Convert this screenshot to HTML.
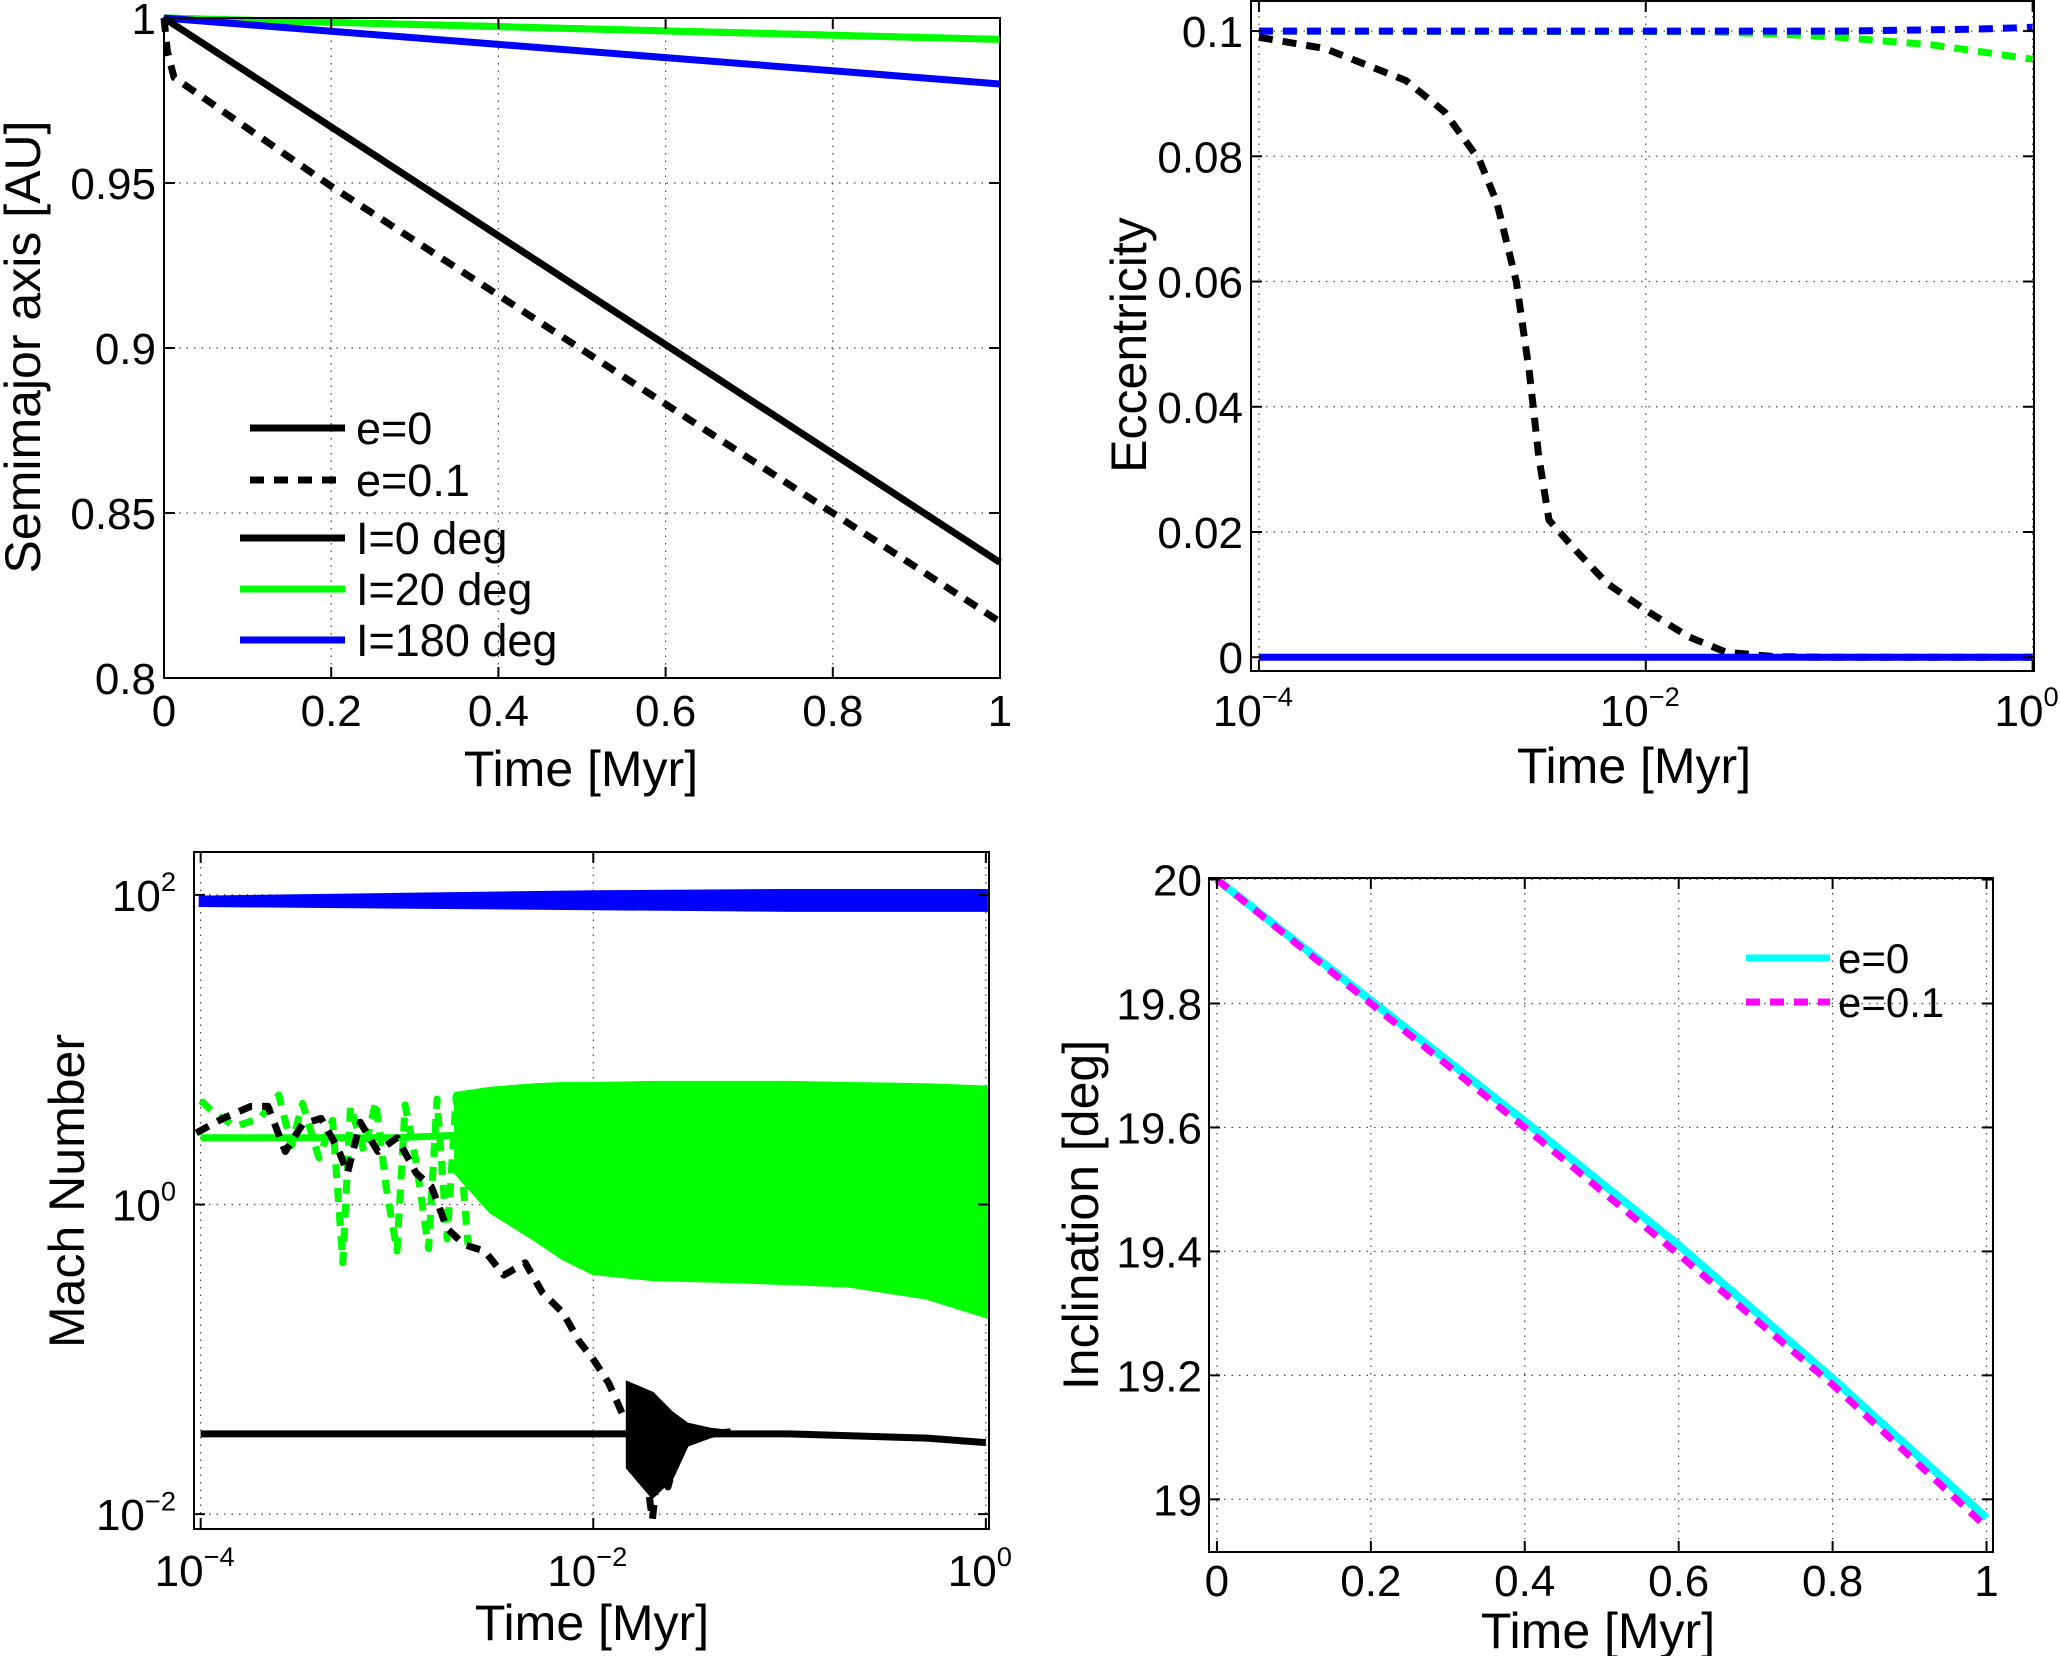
<!DOCTYPE html>
<html><head><meta charset="utf-8"><style>
html,body{margin:0;padding:0;background:#fff;}
svg text{font-family:"Liberation Sans",Arial,sans-serif;fill:#000;}
</style></head><body>
<svg id="fig" width="2060" height="1656" viewBox="0 0 2060 1656" xmlns="http://www.w3.org/2000/svg"></svg>
<script>
// ---------- Panel A: semimajor axis ----------
const aTime = [0, 0.2, 0.4, 0.6, 0.8, 1];
const aE0I0 = [1, 0.967, 0.934, 0.901, 0.868, 0.835];
const aE1I0T = [0, 0.004, 0.012, 0.2, 0.4, 0.6, 0.8, 1];
const aE1I0 = [1, 0.99, 0.982, 0.949, 0.916, 0.883, 0.850, 0.817];
const aI20 = [1, 0.9987, 0.9974, 0.9961, 0.9948, 0.9935];
const aI180 = [1, 0.996, 0.992, 0.988, 0.984, 0.980];
const aXTicks = [0, 0.2, 0.4, 0.6, 0.8, 1];
const aXTickLabels = ["0", "0.2", "0.4", "0.6", "0.8", "1"];
const aYTicks = [0.8, 0.85, 0.9, 0.95, 1];
const aYTickLabels = ["0.8", "0.85", "0.9", "0.95", "1"];

// ---------- Panel B: eccentricity ----------
const bBlackT = [1e-4, 2.2e-4, 5.75e-4, 9.1e-4, 1.38e-3, 1.7e-3, 2.14e-3, 2.5e-3, 2.8e-3, 3.16e-3, 4.4e-3, 6.3e-3, 1e-2, 1.66e-2, 2.6e-2, 4.6e-2, 8e-2, 1];
const bBlackE = [0.099, 0.0972, 0.0921, 0.0871, 0.0794, 0.0726, 0.060, 0.0456, 0.032, 0.0219, 0.0169, 0.0118, 0.0075, 0.0033, 0.0008, 0.0001, 0, 0];
const bGreenT = [1e-4, 2e-2, 0.05, 0.1, 0.3, 0.6, 1];
const bGreenE = [0.1, 0.0999, 0.0995, 0.099, 0.0978, 0.0965, 0.0955];
const bBlueT = [1e-4, 1e-2, 0.1, 0.5, 1];
const bBlueE = [0.1, 0.1, 0.1, 0.1003, 0.1006];
const bSolidT = [1e-4, 1];
const bSolidE = [0, 0];
const bYTicks = [0, 0.02, 0.04, 0.06, 0.08, 0.1];
const bYTickLabels = ["0", "0.02", "0.04", "0.06", "0.08", "0.1"];
const logXTicks = [1e-4, 1e-2, 1];
const logXTickExp = ["−4", "−2", "0"];

// ---------- Panel C: Mach number ----------
const cBlueT = [1e-4, 1e-3, 1e-2, 0.1, 1];
const cBlueUp = [96, 100, 104, 106, 106];
const cBlueLo = [86, 84, 82, 80, 80];
const cBlueMid = [91, 91, 92, 92, 92];
const cGreenSolidT = [1e-4, 1e-3, 2e-3];
const cGreenSolidV = [2.7, 2.7, 2.8];
const cBandT = [2e-3, 3e-3, 5e-3, 7e-3, 1e-2, 2e-2, 5e-2, 0.1, 0.2, 0.5, 1];
const cBandUp = [5.2, 5.6, 5.9, 6.0, 6.0, 6.1, 6.1, 6.1, 6.0, 5.9, 5.7];
const cBandLo = [1.6, 0.9, 0.6, 0.45, 0.36, 0.33, 0.32, 0.31, 0.3, 0.25, 0.19];
const cGreenDashT = [1e-4, 1.2e-4, 1.5e-4, 2.0e-4, 2.5e-4, 2.9e-4, 3.3e-4, 4.0e-4, 4.7e-4, 5.3e-4, 5.8e-4, 6.8e-4, 7.8e-4, 8.8e-4, 1.0e-3, 1.1e-3, 1.25e-3, 1.45e-3, 1.6e-3, 1.8e-3, 2.0e-3, 2.3e-3];
const cGreenDashV = [4.7, 3.8, 3.2, 3.6, 5.1, 2.4, 4.5, 2.0, 3.5, 0.42, 4.3, 2.2, 4.6, 1.3, 0.5, 4.4, 1.9, 0.52, 4.8, 0.6, 5.0, 0.55];
const cBlackDashT = [9.5e-5, 1.3e-4, 1.8e-4, 2.2e-4, 2.7e-4, 3.3e-4, 4.1e-4, 5e-4, 5.6e-4, 6.5e-4, 8e-4, 1.0e-3, 1.25e-3, 1.5e-3, 1.8e-3, 2.2e-3, 2.8e-3, 3.5e-3, 4.5e-3, 5.5e-3, 7e-3, 8.5e-3, 1e-2, 1.2e-2, 1.4e-2, 1.6e-2, 1.8e-2, 2.0e-2, 2.2e-2, 2.4e-2, 2.7e-2, 3e-2, 3.5e-2, 5e-2];
const cBlackDashV = [2.9, 3.6, 4.3, 4.3, 2.2, 3.3, 3.6, 2.3, 1.6, 3.4, 2.2, 2.7, 1.6, 1.3, 0.7, 0.55, 0.5, 0.35, 0.42, 0.27, 0.2, 0.13, 0.1, 0.07, 0.045, 0.05, 0.025, 0.0092, 0.03, 0.015, 0.025, 0.03, 0.033, 0.034];
const cBlackBandT = [1.5e-2, 2e-2, 2.5e-2, 3e-2, 4e-2, 5e-2];
const cBlackBandUp = [0.07, 0.06, 0.045, 0.038, 0.035, 0.034];
const cBlackBandLo = [0.02, 0.013, 0.017, 0.028, 0.032, 0.034];
const cBlackSolidT = [1e-4, 2e-2, 0.1, 0.5, 1];
const cBlackSolidV = [0.033, 0.033, 0.033, 0.031, 0.029];
const cYTicks = [1e-2, 1, 1e2];
const cYTickExp = ["−2", "0", "2"];

// ---------- Panel D: inclination ----------
const dTime = [0, 0.2, 0.4, 0.6, 0.8, 1];
const dE0 = [20, 19.805, 19.61, 19.41, 19.195, 18.97];
const dE1 = [20, 19.80, 19.60, 19.395, 19.185, 18.955];
const dYTicks = [19, 19.2, 19.4, 19.6, 19.8, 20];
const dYTickLabels = ["19", "19.2", "19.4", "19.6", "19.8", "20"];

const NS = "http://www.w3.org/2000/svg";
const fig = document.getElementById("fig");
function mk(tag, parent) { const e = document.createElementNS(NS, tag); parent.appendChild(e); return e; }

function makeAxes(box, xr, yr, xlog, ylog) {
  const fx = v => xlog ? Math.log10(v) : v;
  const fy = v => ylog ? Math.log10(v) : v;
  return {
    box,
    x: v => box.l + (fx(v) - fx(xr[0])) / (fx(xr[1]) - fx(xr[0])) * (box.r - box.l),
    y: v => box.b - (fy(v) - fy(yr[0])) / (fy(yr[1]) - fy(yr[0])) * (box.b - box.t)
  };
}
function line(g, ax, xs, ys, color, w, dash, name) {
  const p = mk("polyline", g);
  p.setAttribute("points", xs.map((x, i) => ax.x(x).toFixed(1) + "," + ax.y(ys[i]).toFixed(1)).join(" "));
  p.setAttribute("fill", "none"); p.setAttribute("stroke", color); p.setAttribute("stroke-width", w);
  p.setAttribute("stroke-linejoin", "round");
  if (dash) p.setAttribute("stroke-dasharray", dash);
  
  
  return p;
}
function band(g, ax, xs, up, lo, color, name) {
  const pts = xs.map((x, i) => ax.x(x).toFixed(1) + "," + ax.y(up[i]).toFixed(1));
  for (let i = xs.length - 1; i >= 0; i--) pts.push(ax.x(xs[i]).toFixed(1) + "," + ax.y(lo[i]).toFixed(1));
  const p = mk("polygon", g);
  p.setAttribute("points", pts.join(" ")); p.setAttribute("fill", color);
  p.setAttribute("stroke", color); p.setAttribute("stroke-width", 4);
  
  
}
function text(parent, x, y, str, size, anchor, name, rot) {
  const t = mk("text", parent);
  t.setAttribute("x", x); t.setAttribute("y", y); t.setAttribute("font-size", size);
  t.setAttribute("text-anchor", anchor || "middle");
  if (rot) t.setAttribute("transform", "rotate(-90 " + x + " " + y + ")");
  t.textContent = str;
  
  
  return t;
}
function expText(parent, x, y, exp, size, anchor, name) {
  const t = mk("text", parent);
  t.setAttribute("x", x); t.setAttribute("y", y); t.setAttribute("font-size", size);
  t.setAttribute("text-anchor", anchor);
  
  
  const a = mk("tspan", t); a.textContent = "10";
  const b = mk("tspan", t); b.textContent = exp; b.setAttribute("font-size", size * 0.62); b.setAttribute("dy", -size * 0.45);
}
function frame(g, ax, xt, yt, name) {
  const b = ax.box;
  const gg = mk("g", g);
  
  
  xt.forEach(v => { const l = mk("line", gg); const X = ax.x(v);
    l.setAttribute("x1", X); l.setAttribute("x2", X); l.setAttribute("y1", b.t); l.setAttribute("y2", b.b);
    l.setAttribute("stroke", "#444"); l.setAttribute("stroke-width", 1.2); l.setAttribute("stroke-dasharray", "1.5,6"); });
  yt.forEach(v => { const l = mk("line", gg); const Y = ax.y(v);
    l.setAttribute("y1", Y); l.setAttribute("y2", Y); l.setAttribute("x1", b.l); l.setAttribute("x2", b.r);
    l.setAttribute("stroke", "#444"); l.setAttribute("stroke-width", 1.2); l.setAttribute("stroke-dasharray", "1.5,6"); });
}
function box(g, ax, xt, yt, name) {
  const b = ax.box;
  const r = mk("rect", g);
  r.setAttribute("x", b.l); r.setAttribute("y", b.t); r.setAttribute("width", b.r - b.l); r.setAttribute("height", b.b - b.t);
  r.setAttribute("fill", "none"); r.setAttribute("stroke", "#000"); r.setAttribute("stroke-width", 2);
  
  
  const tk = mk("g", g);
  
  
  const L = 11;
  xt.forEach(v => { const X = ax.x(v);
    [[b.b, b.b - L], [b.t, b.t + L]].forEach(s => { const l = mk("line", tk);
      l.setAttribute("x1", X); l.setAttribute("x2", X); l.setAttribute("y1", s[0]); l.setAttribute("y2", s[1]);
      l.setAttribute("stroke", "#000"); l.setAttribute("stroke-width", 2); }); });
  yt.forEach(v => { const Y = ax.y(v);
    [[b.l, b.l + L], [b.r, b.r - L]].forEach(s => { const l = mk("line", tk);
      l.setAttribute("y1", Y); l.setAttribute("y2", Y); l.setAttribute("x1", s[0]); l.setAttribute("x2", s[1]);
      l.setAttribute("stroke", "#000"); l.setAttribute("stroke-width", 2); }); });
}
function group(name) { const g = mk("g", fig);   return g; }

const TS = 44, LS = 50, W = 7;

// ===== Panel A =====
(function () {
  const g = group("semimajor-axis-panel");
  const ax = makeAxes({ l: 164, r: 1000, t: 18, b: 678 }, [0, 1], [0.8, 1], false, false);
  frame(g, ax, aXTicks, aYTicks, "semimajor");
  line(g, ax, aTime, aI20, "#00ff00", W, null, "series-i20-e0");
  line(g, ax, aTime, aI20, "#00ff00", W, "14,10", "series-i20-e01");
  line(g, ax, aTime, aI180, "#0000ff", W, null, "series-i180");
  line(g, ax, aTime, aE0I0, "#000", W, null, "series-i0-e0");
  line(g, ax, aE1I0T, aE1I0, "#000", W, "14,10", "series-i0-e01");
  box(g, ax, aXTicks, aYTicks, "semimajor");
  aXTicks.forEach((v, i) => text(g, ax.x(v), 726, aXTickLabels[i], TS, "middle", "x-tick-label"));
  aYTicks.forEach((v, i) => text(g, 156, ax.y(v) + 16, aYTickLabels[i], TS, "end", "y-tick-label"));
  text(g, 581, 786, "Time [Myr]", LS, "middle", "x-axis-title");
  text(g, 40, 347, "Semimajor axis [AU]", LS, "middle", "y-axis-title", true);
  const lg = mk("g", g);  
  const ent = [[250, 428, "#000", null, "e=0"], [250, 480, "#000", "14,10", "e=0.1"], [240, 538, "#000", null, "I=0 deg"], [240, 589, "#00ff00", null, "I=20 deg"], [240, 640, "#0000ff", null, "I=180 deg"]];
  ent.forEach(e => { const l = mk("line", lg);
    l.setAttribute("x1", e[0]); l.setAttribute("x2", 345); l.setAttribute("y1", e[1]); l.setAttribute("y2", e[1]);
    l.setAttribute("stroke", e[2]); l.setAttribute("stroke-width", W); if (e[3]) l.setAttribute("stroke-dasharray", e[3]);
     
    text(lg, 356, e[1] + 16, e[4], 45, "start", "legend-entry"); });
})();

// ===== Panel B =====
(function () {
  const g = group("eccentricity-panel");
  const ax = makeAxes({ l: 1251, r: 2034, t: 1, b: 671 }, [Math.pow(10, -4.041), Math.pow(10, 0.0072)], [-0.0022, 0.1048], true, false);
  frame(g, ax, logXTicks, bYTicks, "ecc");
  line(g, ax, bGreenT, bGreenE, "#00ff00", W, "14,10", "series-green-dashed");
  line(g, ax, bBlackT, bBlackE, "#000", W, "14,10", "series-black-dashed");
  line(g, ax, bBlueT, bBlueE, "#0000ff", W, "14,10", "series-blue-dashed");
  line(g, ax, bSolidT, bSolidE, "#0000ff", W, null, "series-solid-zero");
  box(g, ax, logXTicks, bYTicks, "ecc");
  logXTicks.forEach((v, i) => expText(g, ax.x(v) - 6, 726, logXTickExp[i], TS, "middle", "x-tick-label"));
  bYTicks.forEach((v, i) => text(g, 1243, ax.y(v) + 16, bYTickLabels[i], TS, "end", "y-tick-label"));
  text(g, 1634, 783, "Time [Myr]", LS, "middle", "x-axis-title");
  text(g, 1146, 345, "Eccentricity", LS, "middle", "y-axis-title", true);
})();

// ===== Panel C =====
(function () {
  const g = group("mach-number-panel");
  const ax = makeAxes({ l: 194, r: 989, t: 852, b: 1529 }, [Math.pow(10, -4.034), Math.pow(10, 0.016)], [Math.pow(10, -2.096), Math.pow(10, 2.277)], true, true);
  frame(g, ax, logXTicks, cYTicks, "mach");
  line(g, ax, cGreenSolidT, cGreenSolidV, "#00ff00", W, null, "series-green-solid");
  line(g, ax, cGreenDashT, cGreenDashV, "#00ff00", W, "14,10", "series-green-dashed");
  band(g, ax, cBandT, cBandUp, cBandLo, "#00ff00", "series-green-oscillation");
  line(g, ax, cBlackSolidT, cBlackSolidV, "#000", W, null, "series-black-solid");
  band(g, ax, cBlackBandT, cBlackBandUp, cBlackBandLo, "#000", "series-black-oscillation");
  line(g, ax, cBlackDashT, cBlackDashV, "#000", W, "14,10", "series-black-dashed");
  band(g, ax, cBlueT, cBlueUp, cBlueLo, "#0000ff", "series-blue-band");
  line(g, ax, cBlueT, cBlueMid, "#0000ff", W, null, "series-blue");
  box(g, ax, logXTicks, cYTicks, "mach");
  logXTicks.forEach((v, i) => expText(g, ax.x(v) - 6, 1586, logXTickExp[i], TS, "middle", "x-tick-label"));
  cYTicks.forEach((v, i) => expText(g, 176, ax.y(v) + 16, cYTickExp[i], TS, "end", "y-tick-label"));
  text(g, 592, 1640, "Time [Myr]", LS, "middle", "x-axis-title");
  text(g, 84, 1191, "Mach Number", LS, "middle", "y-axis-title", true);
})();

// ===== Panel D =====
(function () {
  const g = group("inclination-panel");
  const ax = makeAxes({ l: 1209, r: 1993, t: 878, b: 1552 }, [-0.0103, 1.0084], [18.915, 20.0025], false, false);
  frame(g, ax, dTime, dYTicks, "incl");
  line(g, ax, dTime, dE0, "#00ffff", W + 1, null, "series-e0");
  line(g, ax, dTime, dE1, "#ff00ff", W, "14,10", "series-e01");
  box(g, ax, dTime, dYTicks, "incl");
  dTime.forEach((v, i) => text(g, ax.x(v), 1596, aXTickLabels[i], TS, "middle", "x-tick-label"));
  dYTicks.forEach((v, i) => text(g, 1202, ax.y(v) + 16, dYTickLabels[i], TS, "end", "y-tick-label"));
  text(g, 1598, 1648, "Time [Myr]", LS, "middle", "x-axis-title");
  text(g, 1098, 1215, "Inclination [deg]", LS, "middle", "y-axis-title", true);
  const lg = mk("g", g);  
  [[958, "#00ffff", null, "e=0"], [1002, "#ff00ff", "14,10", "e=0.1"]].forEach(e => {
    const l = mk("line", lg);
    l.setAttribute("x1", 1746); l.setAttribute("x2", 1830); l.setAttribute("y1", e[0]); l.setAttribute("y2", e[0]);
    l.setAttribute("stroke", e[1]); l.setAttribute("stroke-width", W); if (e[2]) l.setAttribute("stroke-dasharray", e[2]);
     
    text(lg, 1838, e[0] + 15, e[3], 42, "start", "legend-entry");
  });
})();
</script>
</body></html>
